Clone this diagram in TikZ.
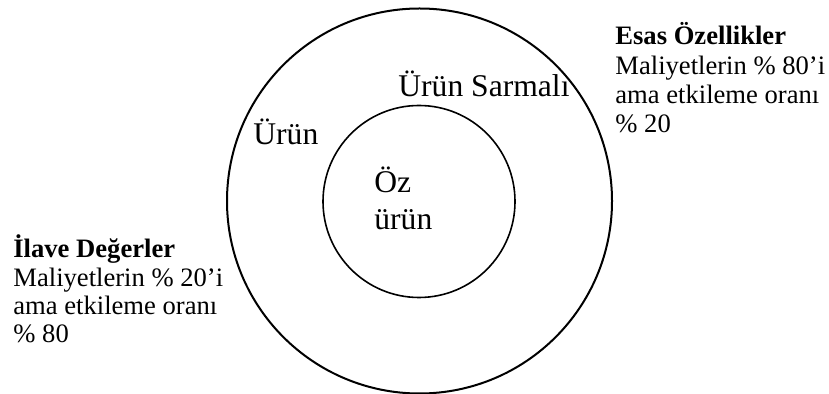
\documentclass[tikz,border=0pt]{standalone}
\usepackage{fontspec}
\setmainfont{Liberation Serif}
\begin{document}
\begin{tikzpicture}[x=0.5pt,y=-0.5pt,
  ring/.style={circle,draw,inner sep=0pt},
  side/.style={anchor=base west,inner sep=0pt,font=\fontsize{13.3}{16}\selectfont},
  lbl/.style={anchor=base west,inner sep=0pt,font=\fontsize{15.8}{18}\selectfont}]
\useasboundingbox (0,0) rectangle (829,394);
% circles
\node [ring,line width=1pt,minimum size=192.5pt] (urun) at (419.5,201) {};
\node [ring,line width=0.8pt,minimum size=96pt] (oz) at (419,201.5) {};
% labels in the circles
\node [lbl] (sarmal) at (398,97) {Ürün Sarmalı};
\node [lbl] (urunlbl) at (253,145) {Ürün};
\node [lbl] (oz1) at (374,193) {Öz};
\node [lbl] (oz2) at (374,230) {ürün};
% right block
\node [side] (esas) at (615,45) {\textbf{Esas Özellikler}};
\node [side] (esas1) at (615,75) {Maliyetlerin \% 80’i};
\node [side] (esas2) at (615,104) {ama etkileme oranı};
\node [side] (esas3) at (615,133) {\% 20};
% left block
\node [side] (ilave) at (13,258) {\textbf{İlave Değerler}};
\node [side] (ilave1) at (13,287) {Maliyetlerin \% 20’i};
\node [side] (ilave2) at (13,315) {ama etkileme oranı};
\node [side] (ilave3) at (13,343) {\% 80};
\end{tikzpicture}
\end{document}
